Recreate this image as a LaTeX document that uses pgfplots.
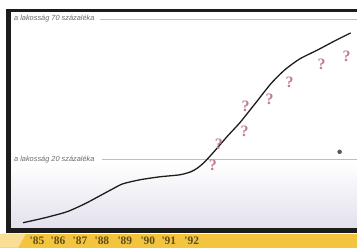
\documentclass[border=0pt]{standalone}
\usepackage{pgfplots}
\pgfplotsset{compat=1.18}
\usepackage{fontspec}
\setmainfont{Liberation Sans}
\newfontfamily\yearfont{Liberation Serif}
\definecolor{frmcol}{HTML}{1C1C1C}
\definecolor{lav}{HTML}{E2E0EC}
\definecolor{stripc}{HTML}{F3C53E}
\definecolor{yearc}{HTML}{5E4C1C}
\definecolor{qc}{HTML}{C07C98}
\definecolor{refc}{HTML}{BEBEBE}
\definecolor{labc}{HTML}{6A6A6A}
\begin{document}
\begin{tikzpicture}
\begin{axis}[
  width=357bp, height=248bp, scale only axis,
  xmin=0, xmax=357, ymin=0, ymax=248,
  hide axis, clip=false,
]
% background
\fill[white] (axis cs:0,0) rectangle (axis cs:357,248);
\shade[top color=white, bottom color=lav] (axis cs:11,19) rectangle (axis cs:357,85);
% yellow strip
\fill[fill=stripc] (axis cs:0,0) rectangle (axis cs:357,14);
\fill[fill=stripc!55!white] (axis cs:0,0) -- (axis cs:0,14) -- (axis cs:26,14) -- (axis cs:18,0) -- cycle;
% frame
\fill[fill=frmcol] (axis cs:6,235.5) rectangle (axis cs:357,238.5);
\fill[fill=frmcol] (axis cs:6,14.5) rectangle (axis cs:11.5,238.5);
\fill[fill=frmcol] (axis cs:6,14.5) rectangle (axis cs:357,19.5);
% reference lines
\draw[refc, line width=0.8pt] (axis cs:100,229) -- (axis cs:357,229);
\draw[refc, line width=0.8pt] (axis cs:102,88) -- (axis cs:357,88);
\node[anchor=west, inner sep=0pt, text=labc, font=\fontsize{7.4}{8}\selectfont\itshape] at (axis cs:14,229) {a lakosság 70 százaléka};
\node[anchor=west, inner sep=0pt, text=labc, font=\fontsize{7.4}{8}\selectfont\itshape] at (axis cs:14,88) {a lakosság 20 százaléka};
% year labels
\node[inner sep=0pt, text=yearc, font=\fontsize{11.5}{12}\selectfont\yearfont\bfseries] at (axis cs:37,7) {'85};
\node[inner sep=0pt, text=yearc, font=\fontsize{11.5}{12}\selectfont\yearfont\bfseries] at (axis cs:58,7) {'86};
\node[inner sep=0pt, text=yearc, font=\fontsize{11.5}{12}\selectfont\yearfont\bfseries] at (axis cs:80,7) {'87};
\node[inner sep=0pt, text=yearc, font=\fontsize{11.5}{12}\selectfont\yearfont\bfseries] at (axis cs:102,7) {'88};
\node[inner sep=0pt, text=yearc, font=\fontsize{11.5}{12}\selectfont\yearfont\bfseries] at (axis cs:125,7) {'89};
\node[inner sep=0pt, text=yearc, font=\fontsize{11.5}{12}\selectfont\yearfont\bfseries] at (axis cs:148,7) {'90};
\node[inner sep=0pt, text=yearc, font=\fontsize{11.5}{12}\selectfont\yearfont\bfseries] at (axis cs:169,7) {'91};
\node[inner sep=0pt, text=yearc, font=\fontsize{11.5}{12}\selectfont\yearfont\bfseries] at (axis cs:192,7) {'92};
% curve
\addplot[color=frmcol, line width=1.3pt, smooth, tension=0.4] coordinates {
(23,25) (45,30) (67,36) (85,44) (100,52) (113,59) (123,64) (140,68) (160,71)
(180,73) (191,76) (198,80) (205,86) (215,97) (228,112) (240,125) (256,145)
(271,164) (285,178) (300,189) (318,198) (335,207) (351,215)
};
% question marks
\addplot[only marks, mark=text, text mark={\textcolor{qc}{\fontsize{16}{16}\selectfont\yearfont\bfseries ?}}] coordinates {
(213,82) (219,103) (245,117) (246,142) (270,149) (290,166) (322,184) (347,192)
};
% dot
\addplot[only marks, mark=*, mark size=2pt, color=black!65] coordinates {(340,96)};
\end{axis}
\end{tikzpicture}
\end{document}
